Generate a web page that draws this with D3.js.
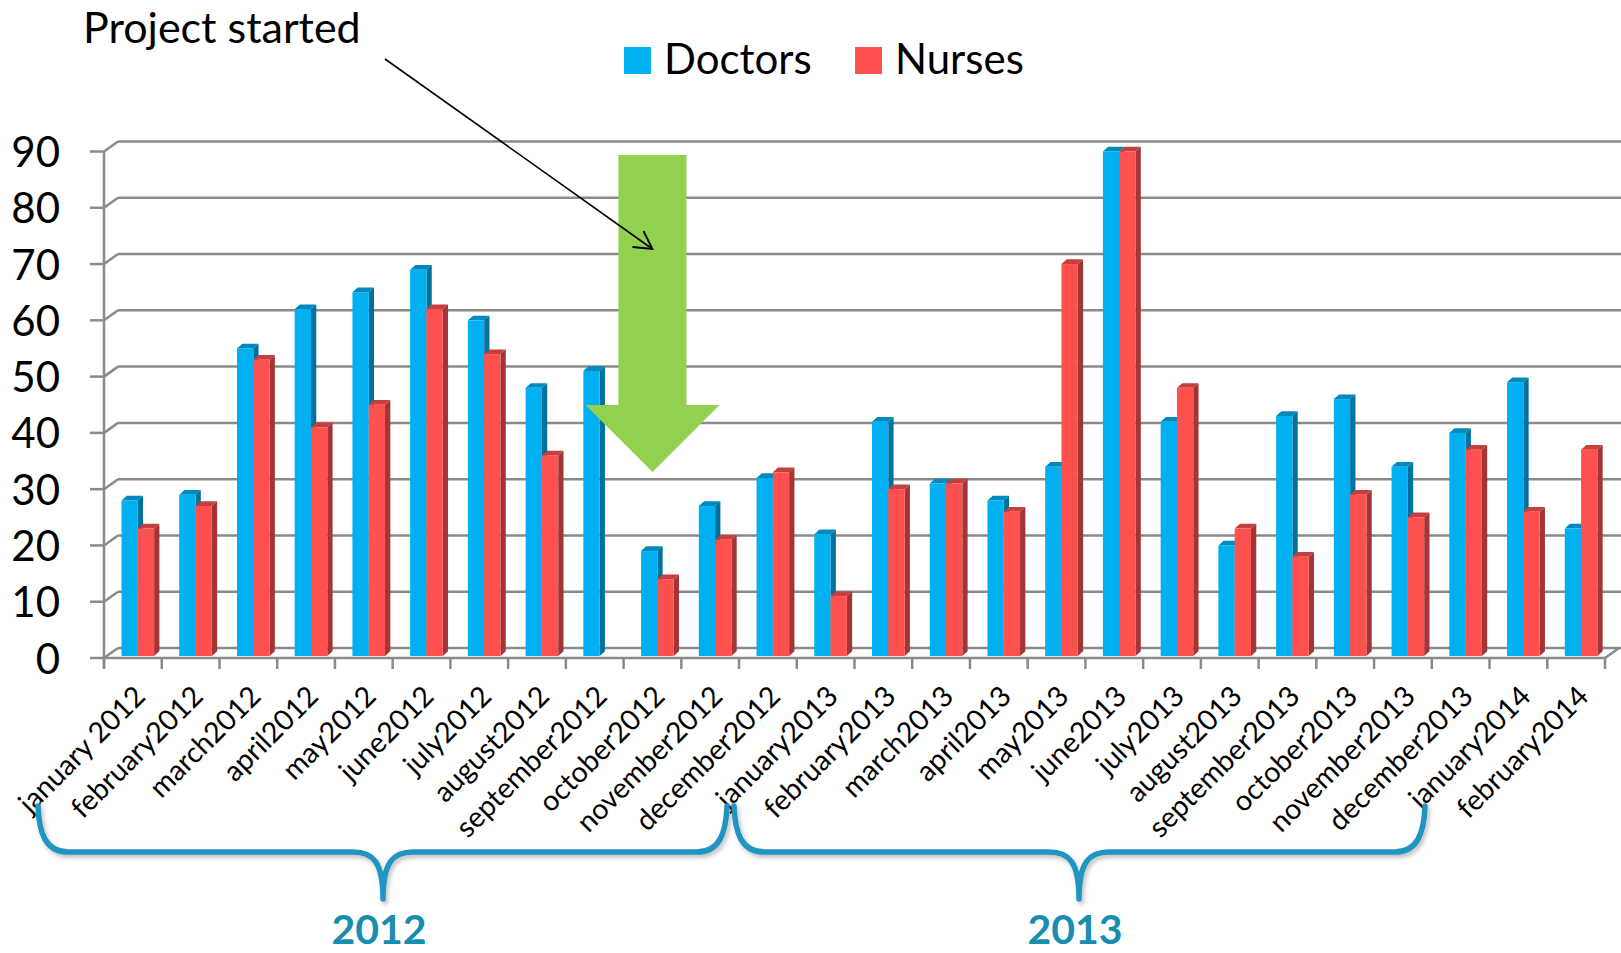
<!DOCTYPE html>
<html>
<head>
<meta charset="utf-8">
<script src="https://cdn.jsdelivr.net/npm/d3@7"></script>
<style>
  html, body { margin: 0; padding: 0; background: #fff; }
  svg { display: block; font-family: Lato, "Open Sans", sans-serif; }
</style>
</head>
<body>
<svg id="chart" width="1621" height="953"></svg>
<script>
let months = ['january 2012','february2012','march2012','april2012','may2012','june2012',
  'july2012','august2012','september2012','october2012','november2012','december2012',
  'january2013','february2013','march2013','april2013','may2013','june2013','july2013',
  'august2013','september2013','october2013','november2013','december2013','january2014','february2014']
let doctors = [28,29,55,62,65,69,60,48,51,19,27,32,22,42,31,28,34,90,42,20,43,46,34,40,49,23]
let nurses  = [23,27,53,41,45,62,54,36,0,14,21,33,11,30,31,26,70,90,48,23,18,29,25,37,26,37]
let yTicks = [0,10,20,30,40,50,60,70,80,90]
let seriesNames = ['Doctors','Nurses']
let years = ['2012','2013']

let svg = d3.select('#chart')
let W = 1621

let x = d3.scaleBand().domain(months).range([104, 1605])
let y = d3.scaleLinear().domain([0, 90]).range([658, 151.5])

// 3d depth of the back wall and of the bars
let wallDx = 14, wallDy = -10
let barDx = 5.3, barDy = -4.7
let barW = 16.3, barOff = 17.5
let barBottom = y(0) - 2

let gridColor = '#8a8a8a'

// back wall gridlines + side diagonals
let grid = svg.append('g')
yTicks.forEach(t => {
  grid.append('line')
    .attr('x1', x.range()[0] + wallDx).attr('x2', W)
    .attr('y1', y(t) + wallDy).attr('y2', y(t) + wallDy)
    .attr('stroke', gridColor).attr('stroke-width', 2.5)
  grid.append('line')
    .attr('x1', x.range()[0]).attr('x2', x.range()[0] + wallDx)
    .attr('y1', y(t)).attr('y2', y(t) + wallDy)
    .attr('stroke', gridColor).attr('stroke-width', 2.5)
  grid.append('line')
    .attr('x1', x.range()[0] - 14).attr('x2', x.range()[0])
    .attr('y1', y(t)).attr('y2', y(t))
    .attr('stroke', gridColor).attr('stroke-width', 2.5)
})
// y axis line
grid.append('line')
  .attr('x1', x.range()[0]).attr('x2', x.range()[0])
  .attr('y1', y(90)).attr('y2', y(0) + 10)
  .attr('stroke', gridColor).attr('stroke-width', 2.5)
// floor front edge and right edge
grid.append('line')
  .attr('x1', x.range()[0]).attr('x2', x.range()[1])
  .attr('y1', y(0)).attr('y2', y(0))
  .attr('stroke', gridColor).attr('stroke-width', 2.5)
grid.append('line')
  .attr('x1', x.range()[1]).attr('x2', x.range()[1] + wallDx)
  .attr('y1', y(0)).attr('y2', y(0) + wallDy)
  .attr('stroke', gridColor).attr('stroke-width', 2.5)
// x ticks at category boundaries
let bounds = months.map(m => x(m)).concat([x.range()[1]])
grid.selectAll('.xtick').data(bounds).enter().append('line')
  .attr('x1', d => d).attr('x2', d => d)
  .attr('y1', y(0)).attr('y2', y(0) + 11)
  .attr('stroke', gridColor).attr('stroke-width', 2.5)

// y labels
svg.append('g').selectAll('text').data(yTicks).enter().append('text')
  .attr('x', 60).attr('y', d => y(d) + 15.5)
  .attr('text-anchor', 'end')
  .attr('font-size', 42)
  .attr('fill', '#000')
  .text(d => d)

let colors = [
  {front: '#00B0F0', side: '#00719C', top: '#0089BE'},
  {front: '#FF5050', side: '#A33535', top: '#C63F3F'}
]

function bar3d(g, x0, v, c) {
  if (!v) return
  let yt = y(v)
  g.append('path')
    .attr('d', `M${x0 + barW},${yt} L${x0 + barW + barDx},${yt + barDy} L${x0 + barW + barDx},${barBottom + barDy} L${x0 + barW},${barBottom} Z`)
    .attr('fill', c.side)
  g.append('path')
    .attr('d', `M${x0},${yt} L${x0 + barDx},${yt + barDy} L${x0 + barW + barDx},${yt + barDy} L${x0 + barW},${yt} Z`)
    .attr('fill', c.top)
  g.append('rect')
    .attr('x', x0).attr('y', yt)
    .attr('width', barW).attr('height', barBottom - yt)
    .attr('fill', c.front)
}

let bars = svg.append('g')
months.forEach((m, i) => {
  let g = bars.append('g')
  bar3d(g, x(m) + barOff, doctors[i], colors[0])
  bar3d(g, x(m) + barOff + barW, nurses[i], colors[1])
})

// month labels, rotated
svg.append('g').selectAll('text').data(months).enter().append('text')
  .attr('transform', d => `translate(${x(d) + x.bandwidth() / 2 + 14},698) rotate(-45)`)
  .attr('text-anchor', 'end')
  .attr('font-size', 28.5)
  .attr('fill', '#000')
  .text(d => d)

// legend
let legend = svg.append('g')
let legX = [624, 855]
seriesNames.forEach((n, i) => {
  legend.append('rect')
    .attr('x', legX[i]).attr('y', 47).attr('width', 27).attr('height', 27)
    .attr('fill', colors[i].front)
  legend.append('text')
    .attr('x', legX[i] + 40).attr('y', 74)
    .attr('font-size', 42)
    .text(n)
})

// green "started" arrow over october 2012
let cx = x('october2012') + x.bandwidth() / 2
svg.append('path')
  .attr('d', `M${cx - 34},155 L${cx + 34},155 L${cx + 34},405 L${cx + 67},405 L${cx},472 L${cx - 67},405 L${cx - 34},405 Z`)
  .attr('fill', '#92D050')

// annotation
svg.append('text')
  .attr('x', 83).attr('y', 43)
  .attr('font-size', 43)
  .text('Project started')
svg.append('line')
  .attr('x1', 385).attr('y1', 59).attr('x2', cx).attr('y2', 249)
  .attr('stroke', '#000').attr('stroke-width', 1.6)
svg.append('path')
  .attr('d', `M${cx - 20},247 L${cx},249 L${cx - 9},231`)
  .attr('fill', 'none').attr('stroke', '#000').attr('stroke-width', 1.8)

// year braces
let defs = svg.append('defs')
let f = defs.append('filter').attr('id', 'shadow').attr('x', '-5%').attr('y', '-20%').attr('width', '110%').attr('height', '150%')
f.append('feDropShadow').attr('dx', 2).attr('dy', 3).attr('stdDeviation', 2).attr('flood-color', '#000').attr('flood-opacity', 0.25)

function brace(x1, x2, xm, yTop, yMid, yTip) {
  return `M${x1},${yTop} C${x1 + 1},${yMid - 18} ${x1 + 8},${yMid} ${x1 + 30},${yMid}` +
    ` L${xm - 30},${yMid} C${xm - 10},${yMid} ${xm},${yMid + 10} ${xm},${yTip}` +
    ` C${xm},${yMid + 10} ${xm + 10},${yMid} ${xm + 30},${yMid}` +
    ` L${x2 - 30},${yMid} C${x2 - 8},${yMid} ${x2 - 1},${yMid - 18} ${x2},${yTop}`
}
let braces = [[38, 727, 383], [734, 1425, 1079]]
braces.forEach((b, i) => {
  svg.append('path')
    .attr('d', brace(b[0], b[1], b[2], 806, 852, 899))
    .attr('fill', 'none').attr('stroke', '#2494C2').attr('stroke-width', 5.5)
    .attr('stroke-linecap', 'round').attr('stroke-linejoin', 'round')
    .attr('filter', 'url(#shadow)')
  svg.append('text')
    .attr('x', b[2] - 4).attr('y', 944)
    .attr('text-anchor', 'middle')
    .attr('font-size', 41).attr('font-weight', 'bold')
    .attr('fill', '#178DAF')
    .text(years[i])
})
</script>
</body>
</html>
